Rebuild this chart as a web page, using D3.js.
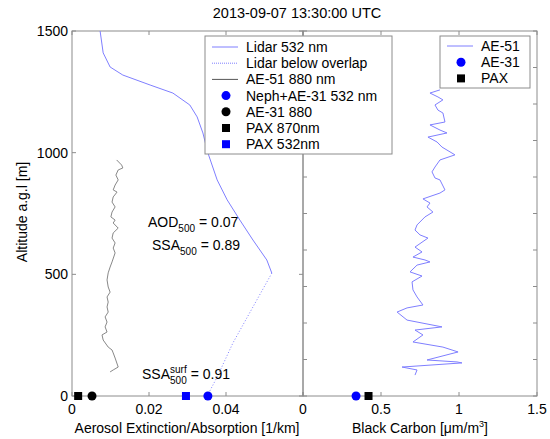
<!DOCTYPE html>
<html>
<head>
<meta charset="utf-8">
<script src="https://cdn.jsdelivr.net/npm/d3@7"></script>
<style>
  body { margin: 0; background: #fff; }
  text { font-family: "Liberation Sans", Arial, sans-serif; fill: #000; }
</style>
</head>
<body>
<div id="chart"></div>
<script>
// lidar extinction profile, 532 nm (altitude m, extinction 1/km)
var lidarAlt = [1500, 1410, 1352, 1319, 1278, 1245, 1196, 1147, 1081, 999, 888, 806, 723, 641, 559, 505];
var lidarExt = [0.0073, 0.0081, 0.0099, 0.0132, 0.0203, 0.0262, 0.0306, 0.0325, 0.0340, 0.0353, 0.0377, 0.0403, 0.0436, 0.0470, 0.0506, 0.0519];

// lidar below overlap (dotted)
var overlapAlt = [505, 366, 218, 78, 0];
var overlapExt = [0.0519, 0.0470, 0.0418, 0.0377, 0.0351];

// AE-51 absorption 880 nm
var ae51AbsAlt = [970, 949, 937, 929, 908, 888, 867, 847, 838, 818, 797, 777, 756, 736, 723, 711, 690, 670, 649, 629, 608, 588, 551, 530, 506, 477, 448, 427, 407, 386, 366, 345, 325, 304, 284, 263, 251, 230, 201, 189, 177, 156, 119, 107, 99];
var ae51Abs = [0.0116, 0.0129, 0.0132, 0.0120, 0.0114, 0.0120, 0.0112, 0.0107, 0.0117, 0.0107, 0.0104, 0.0112, 0.0104, 0.0101, 0.0112, 0.0107, 0.0120, 0.0107, 0.0104, 0.0112, 0.0107, 0.0112, 0.0104, 0.0099, 0.0094, 0.0091, 0.0094, 0.0099, 0.0091, 0.0094, 0.0091, 0.0094, 0.0086, 0.0091, 0.0086, 0.0091, 0.0078, 0.0081, 0.0094, 0.0104, 0.0107, 0.0112, 0.0120, 0.0107, 0.0099];

// surface points (left panel)
var nephAe31 = 0.0353;
var ae31_880 = 0.0052;
var pax870 = 0.0016;
var pax532 = 0.0296;

// black carbon from AE-51 (altitude m, ug/m3)
var bcAlt = [1258, 1245, 1229, 1217, 1196, 1175, 1163, 1126, 1114, 1093, 1081, 1064, 1044, 1023, 991, 970, 941, 921, 896, 888, 847, 834, 810, 793, 777, 756, 736, 703, 682, 662, 649, 612, 592, 571, 559, 551, 538, 510, 493, 469, 436, 407, 374, 362, 345, 312, 284, 271, 251, 222, 201, 181, 148, 140, 136, 119, 107, 86];
var bcVal = [0.878, 0.814, 0.865, 0.897, 0.846, 0.865, 0.897, 0.910, 0.814, 0.878, 0.923, 0.801, 0.859, 0.891, 0.974, 0.878, 0.846, 0.827, 0.846, 0.878, 0.910, 0.878, 0.769, 0.814, 0.795, 0.833, 0.782, 0.731, 0.718, 0.750, 0.801, 0.718, 0.763, 0.705, 0.782, 0.814, 0.731, 0.686, 0.763, 0.699, 0.705, 0.731, 0.769, 0.667, 0.603, 0.667, 0.891, 0.718, 0.769, 0.705, 0.897, 0.994, 0.795, 0.987, 1.019, 0.635, 0.731, 0.718];
var bcAe31 = 0.34;
var bcPax = 0.42;

var leftTicks = [0, 0.02, 0.04, 0.06];
var leftTickLabels = ["0", "0.02", "0.04", ""];
var rightTicks = [0, 0.5, 1, 1.5];
var altTicks = [0, 500, 1000, 1500];
var rightAltTicks = d3.range(0, 1501, 150);

var W = 550, H = 439;
var FS = 14;
var frameCol = "#8c8c8c";
var lidarCol = "#7f7fff";
var blue = "#0000ff";

var svg = d3.select("#chart").append("svg")
  .attr("width", W).attr("height", H);

var y = d3.scaleLinear().domain([0, 1500]).range([396, 31]);
var xL = d3.scaleLinear().domain([0, 0.06]).range([72, 303]);
var xR = d3.scaleLinear().domain([0, 1.5]).range([303, 537]);

// frames
function frame(x) {
  svg.append("rect")
    .attr("x", x.range()[0]).attr("y", y.range()[1])
    .attr("width", x.range()[1] - x.range()[0])
    .attr("height", y.range()[0] - y.range()[1])
    .attr("fill", "none").attr("stroke", frameCol).attr("stroke-width", 1);
}
frame(xL);
frame(xR);

// ticks drawn inward
function ticks(x, xt, yt) {
  var g = svg.append("g").attr("stroke", frameCol).attr("stroke-width", 1);
  xt.forEach(function(t) {
    g.append("line").attr("x1", x(t)).attr("x2", x(t)).attr("y1", y(0)).attr("y2", y(0) - 4);
    g.append("line").attr("x1", x(t)).attr("x2", x(t)).attr("y1", y(1500)).attr("y2", y(1500) + 4);
  });
  yt.forEach(function(t) {
    g.append("line").attr("x1", x.range()[0]).attr("x2", x.range()[0] + 4).attr("y1", y(t)).attr("y2", y(t));
    g.append("line").attr("x1", x.range()[1]).attr("x2", x.range()[1] - 4).attr("y1", y(t)).attr("y2", y(t));
  });
}
ticks(xL, leftTicks, altTicks);
ticks(xR, rightTicks, rightAltTicks);

// tick labels
svg.selectAll(".xl").data(leftTicks).enter().append("text")
  .attr("x", function(d) { return xL(d); }).attr("y", 414)
  .attr("text-anchor", "middle").attr("font-size", FS)
  .text(function(d, i) { return leftTickLabels[i]; });
svg.selectAll(".xr").data(rightTicks).enter().append("text")
  .attr("x", function(d) { return xR(d); }).attr("y", 414)
  .attr("text-anchor", "middle").attr("font-size", FS)
  .text(function(d) { return d; });
svg.selectAll(".yl").data(altTicks).enter().append("text")
  .attr("x", 68).attr("y", function(d) { return y(d) + 5; })
  .attr("text-anchor", "end").attr("font-size", FS)
  .text(function(d) { return d; });

// titles
svg.append("text").attr("x", 297).attr("y", 18).attr("text-anchor", "middle")
  .attr("font-size", 14.5).text("2013-09-07 13:30:00 UTC");
svg.append("text").attr("transform", "translate(27,212) rotate(-90)")
  .attr("text-anchor", "middle").attr("font-size", FS).text("Altitude a.g.l [m]");
svg.append("text").attr("x", 187).attr("y", 433).attr("text-anchor", "middle")
  .attr("font-size", FS).text("Aerosol Extinction/Absorption [1/km]");
var bcTitle = svg.append("text").attr("x", 420).attr("y", 433).attr("text-anchor", "middle")
  .attr("font-size", FS);
bcTitle.append("tspan").text("Black Carbon [\u03bcm/m");
bcTitle.append("tspan").attr("font-size", 9).attr("dy", -6).text("3");
bcTitle.append("tspan").attr("dy", 6).text("]");

// lines
var lineL = d3.line().x(function(d) { return xL(d[0]); }).y(function(d) { return y(d[1]); });
var lineR = d3.line().x(function(d) { return xR(d[0]); }).y(function(d) { return y(d[1]); });

svg.append("path").attr("d", lineL(d3.zip(lidarExt, lidarAlt)))
  .attr("fill", "none").attr("stroke", lidarCol).attr("stroke-width", 1);
svg.append("path").attr("d", lineL(d3.zip(overlapExt, overlapAlt)))
  .attr("fill", "none").attr("stroke", lidarCol).attr("stroke-width", 1)
  .attr("stroke-dasharray", "1,2");
svg.append("path").attr("d", lineL(d3.zip(ae51Abs, ae51AbsAlt)))
  .attr("fill", "none").attr("stroke", "#888").attr("stroke-width", 1);
svg.append("path").attr("d", lineR(d3.zip(bcVal, bcAlt)))
  .attr("fill", "none").attr("stroke", lidarCol).attr("stroke-width", 1);

// markers
function circ(cx, fill) {
  svg.append("circle").attr("cx", cx).attr("cy", y(0)).attr("r", 4.5).attr("fill", fill);
}
function sq(cx, fill) {
  svg.append("rect").attr("x", cx - 4).attr("y", y(0) - 4).attr("width", 8).attr("height", 8).attr("fill", fill);
}
sq(xL(pax870), "#000");
circ(xL(ae31_880), "#000");
sq(xL(pax532), blue);
circ(xL(nephAe31), blue);
circ(xR(bcAe31), blue);
sq(xR(bcPax), "#000");

// annotations, built piece by piece so sub/superscripts line up
function annot(x, yy, main, sub, sup, rest) {
  var t1 = svg.append("text").attr("x", x).attr("y", yy).attr("font-size", FS).text(main);
  var x2 = x + t1.node().getComputedTextLength();
  var w = 0;
  var s1 = svg.append("text").attr("x", x2).attr("y", yy + 5).attr("font-size", 10).text(sub);
  w = s1.node().getComputedTextLength();
  if (sup) {
    var s2 = svg.append("text").attr("x", x2).attr("y", yy - 6).attr("font-size", 10).text(sup);
    w = Math.max(w, s2.node().getComputedTextLength());
  }
  svg.append("text").attr("x", x2 + w + 4).attr("y", yy).attr("font-size", FS).text(rest);
}
annot(148, 227, "AOD", "500", null, "= 0.07");
annot(152, 250, "SSA", "500", null, "= 0.89");
annot(142, 379, "SSA", "500", "surf", "= 0.91");

// legend 1
var lg1 = svg.append("g");
lg1.append("rect").attr("x", 205).attr("y", 36).attr("width", 187).attr("height", 118)
  .attr("fill", "#fff").attr("stroke", frameCol);
var leg1 = ["Lidar 532 nm", "Lidar below overlap", "AE-51 880 nm", "Neph+AE-31 532 nm", "AE-31 880", "PAX 870nm", "PAX 532nm"];
leg1.forEach(function(name, i) {
  var yy = 47 + i * 16.2;
  lg1.append("text").attr("x", 246).attr("y", yy + 5).attr("font-size", FS).text(name);
  if (i === 0) lg1.append("line").attr("x1", 212).attr("x2", 238).attr("y1", yy).attr("y2", yy).attr("stroke", lidarCol);
  if (i === 1) lg1.append("line").attr("x1", 212).attr("x2", 238).attr("y1", yy).attr("y2", yy).attr("stroke", lidarCol).attr("stroke-dasharray", "1,1");
  if (i === 2) lg1.append("line").attr("x1", 212).attr("x2", 238).attr("y1", yy).attr("y2", yy).attr("stroke", "#555");
  if (i === 3 || i === 4) lg1.append("circle").attr("cx", 226).attr("cy", yy).attr("r", 4.5).attr("fill", i === 3 ? blue : "#000");
  if (i === 5 || i === 6) lg1.append("rect").attr("x", 222).attr("y", yy - 4).attr("width", 8).attr("height", 8).attr("fill", i === 6 ? blue : "#000");
});

// legend 2
var lg2 = svg.append("g");
lg2.append("rect").attr("x", 440).attr("y", 36).attr("width", 90).attr("height", 52)
  .attr("fill", "#fff").attr("stroke", frameCol);
var leg2 = ["AE-51", "AE-31", "PAX"];
leg2.forEach(function(name, i) {
  var yy = 46 + i * 16.2;
  lg2.append("text").attr("x", 481).attr("y", yy + 5).attr("font-size", FS).text(name);
  if (i === 0) lg2.append("line").attr("x1", 447).attr("x2", 473).attr("y1", yy).attr("y2", yy).attr("stroke", lidarCol);
  if (i === 1) lg2.append("circle").attr("cx", 461).attr("cy", yy).attr("r", 4.5).attr("fill", blue);
  if (i === 2) lg2.append("rect").attr("x", 457).attr("y", yy - 4).attr("width", 8).attr("height", 8).attr("fill", "#000");
});
</script>
</body>
</html>
